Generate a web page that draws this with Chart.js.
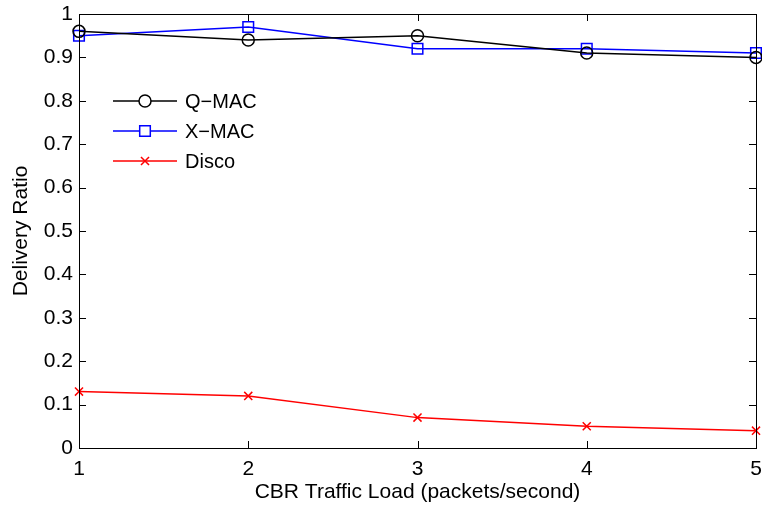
<!DOCTYPE html>
<html>
<head>
<meta charset="utf-8">
<script src="https://cdn.jsdelivr.net/npm/chart.js@4.4.1/dist/chart.umd.min.js"></script>
<style>
  html, body { margin: 0; padding: 0; background: #fff; }
  #wrap { width: 762px; height: 510px; }
</style>
</head>
<body>
<div id="wrap"><canvas id="chart" width="762" height="510"></canvas></div>
<script>
const loads = ["1", "2", "3", "4", "5"];
const qmac = [0.96, 0.94, 0.95, 0.91, 0.90];
const xmac = [0.95, 0.97, 0.92, 0.92, 0.91];
const disco = [0.13, 0.12, 0.07, 0.05, 0.04];
const yTicks = [0, 0.1, 0.2, 0.3, 0.4, 0.5, 0.6, 0.7, 0.8, 0.9, 1];

const FONT = "'Liberation Sans', Arial, Helvetica, sans-serif";

// box around the plot and inward ticks on all four sides, like matlab
const boxPlugin = {
  id: "box",
  afterDraw(chart){
    const ctx = chart.ctx;
    const a = chart.chartArea;
    const xs = chart.scales.x, ys = chart.scales.y;
    const len = 7;
    ctx.save();
    ctx.strokeStyle = "#000";
    ctx.lineWidth = 1;
    ctx.beginPath();
    loads.forEach((l, i) => {
      const px = Math.round(xs.getPixelForValue(i)) + 0.5;
      ctx.moveTo(px, a.bottom); ctx.lineTo(px, a.bottom - len);
      ctx.moveTo(px, a.top); ctx.lineTo(px, a.top + len);
    });
    yTicks.forEach(v => {
      const py = Math.round(ys.getPixelForValue(v)) + 0.5;
      ctx.moveTo(a.left, py); ctx.lineTo(a.left + len, py);
      ctx.moveTo(a.right, py); ctx.lineTo(a.right - len, py);
    });
    ctx.stroke();
    ctx.strokeRect(Math.round(a.left) + 0.5, Math.round(a.top) + 0.5,
      Math.round(a.right - a.left), Math.round(a.bottom - a.top));
    ctx.restore();
  }
};

// legend inside the axes, upper left
const legendPlugin = {
  id: "insideLegend",
  afterDatasetsDraw(chart){
    const ctx = chart.ctx;
    ctx.save();
    ctx.font = "20px " + FONT;
    ctx.textBaseline = "middle";
    chart.data.datasets.forEach((ds, i) => {
      const y = 101 + i * 30;
      ctx.strokeStyle = ds.borderColor;
      ctx.lineWidth = ds.borderWidth;
      ctx.beginPath();
      ctx.moveTo(113, y); ctx.lineTo(177, y);
      ctx.stroke();
      ctx.lineWidth = ds.pointBorderWidth;
      ctx.fillStyle = "#fff";
      Chart.helpers.drawPoint(ctx, {
        pointStyle: ds.pointStyle, radius: ds.pointRadius, borderWidth: ds.pointBorderWidth
      }, 145, y);
      ctx.fillStyle = "#000";
      ctx.fillText(ds.label, 185, y + 1);
    });
    ctx.restore();
  }
};

function series(label, data, color, style, r){
  return {
    label: label,
    data: data,
    borderColor: color,
    backgroundColor: "rgba(0,0,0,0)",
    pointBorderColor: color,
    pointBackgroundColor: "rgba(0,0,0,0)",
    borderWidth: 1.5,
    pointBorderWidth: 1.5,
    pointStyle: style,
    pointRadius: r,
    tension: 0,
    clip: false
  };
}

new Chart(document.getElementById("chart"), {
  type: "line",
  data: {
    labels: loads,
    datasets: [
      series("Q\u2212MAC", qmac, "#000000", "circle", 6),
      series("X\u2212MAC", xmac, "#0000ff", "rect", 7.5),
      series("Disco", disco, "#ff0000", "crossRot", 5.7)
    ]
  },
  options: {
    responsive: false,
    animation: false,
    layout: { autoPadding: false, padding: { top: 14, right: 6, left: 0, bottom: 0 } },
    plugins: { legend: { display: false }, tooltip: { enabled: false } },
    scales: {
      x: {
        type: "category",
        offset: false,
        grid: { display: false, drawTicks: false },
        border: { display: false },
        ticks: { color: "#000", font: { family: FONT, size: 21 }, padding: 9, maxRotation: 0 },
        title: { display: true, text: "CBR Traffic Load (packets/second)", color: "#000",
                 font: { family: FONT, size: 21 }, padding: { top: 0, bottom: 5 } },
        afterFit(s){ s.height = 62; s.paddingLeft = 0; s.paddingRight = 0; }
      },
      y: {
        min: 0, max: 1,
        grid: { display: false, drawTicks: false },
        border: { display: false },
        afterBuildTicks(s){ s.ticks = yTicks.map(v => ({ value: v })); },
        ticks: { color: "#000", font: { family: FONT, size: 21 }, padding: 6,
                 callback: v => String(Math.round(v * 10) / 10) },
        title: { display: true, text: "Delivery Ratio", color: "#000",
                 font: { family: FONT, size: 21 }, padding: { top: 9, bottom: 0 } },
        afterFit(s){ s.width = 79; s.paddingTop = 0; s.paddingBottom = 0; }
      }
    }
  },
  plugins: [boxPlugin, legendPlugin]
});
</script>
</body>
</html>
